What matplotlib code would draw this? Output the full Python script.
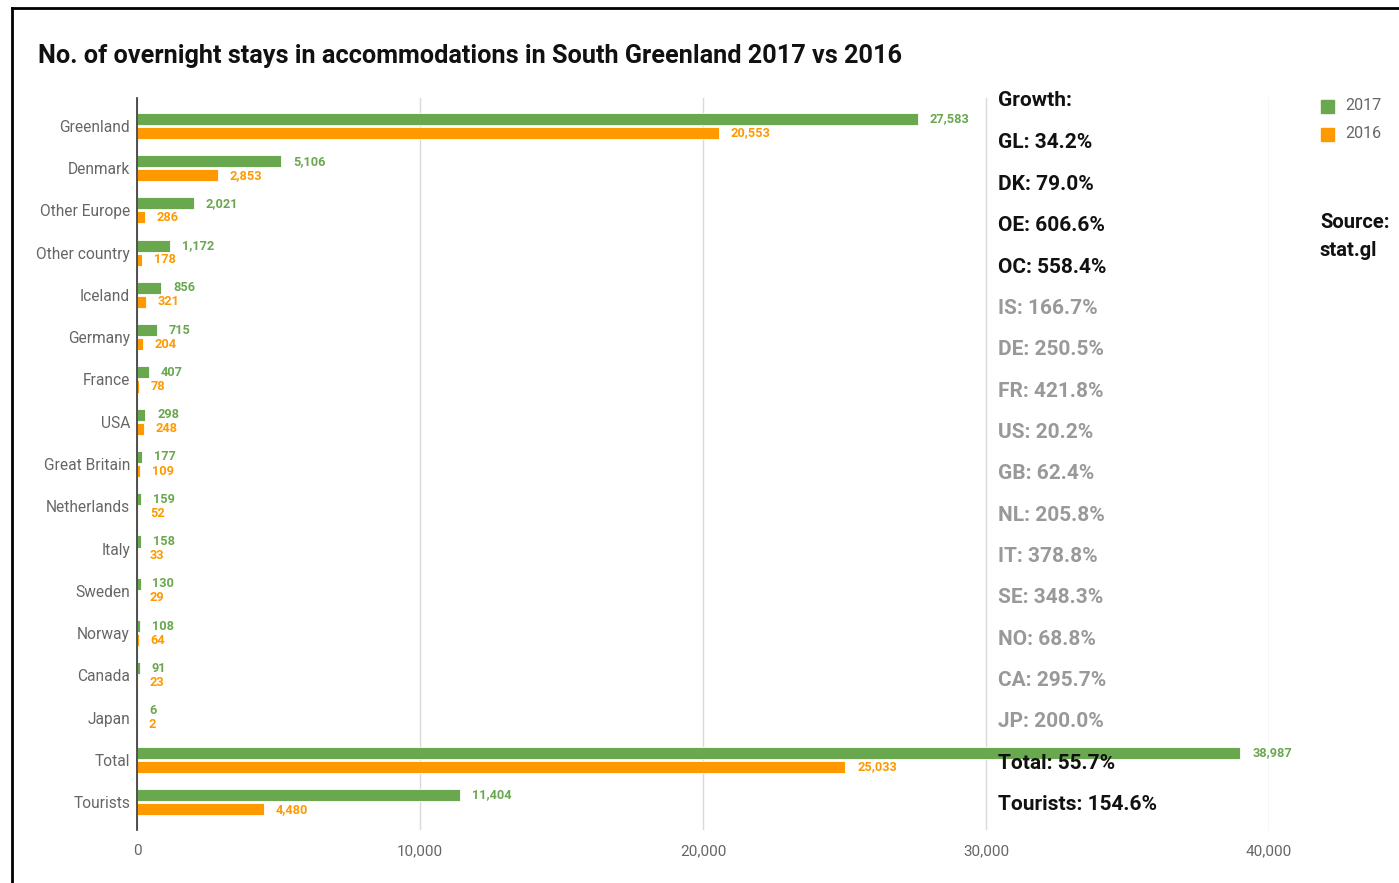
import matplotlib
matplotlib.use("Agg")
import matplotlib.pyplot as plt
from matplotlib.lines import Line2D
from matplotlib.patches import Rectangle

plt.rcParams['font.family'] = ['Roboto', 'DejaVu Sans']

categories = ["Greenland", "Denmark", "Other Europe", "Other country", "Iceland",
              "Germany", "France", "USA", "Great Britain", "Netherlands", "Italy",
              "Sweden", "Norway", "Canada", "Japan", "Total", "Tourists"]
stays_2017 = [27583, 5106, 2021, 1172, 856, 715, 407, 298, 177, 159, 158, 130,
              108, 91, 6, 38987, 11404]
stays_2016 = [20553, 2853, 286, 178, 321, 204, 78, 248, 109, 52, 33, 29,
              64, 23, 2, 25033, 4480]
growth_labels = ["GL: 34.2%", "DK: 79.0%", "OE: 606.6%", "OC: 558.4%", "IS: 166.7%",
                 "DE: 250.5%", "FR: 421.8%", "US: 20.2%", "GB: 62.4%", "NL: 205.8%",
                 "IT: 378.8%", "SE: 348.3%", "NO: 68.8%", "CA: 295.7%", "JP: 200.0%",
                 "Total: 55.7%", "Tourists: 154.6%"]
growth_highlight = [True, True, True, True, False, False, False, False, False,
                    False, False, False, False, False, False, True, True]
x_ticks = [0, 10000, 20000, 30000, 40000]

GREEN = "#6aa84f"
ORANGE = "#ff9900"
GREY_TXT = "#666666"

W, H = 1399, 883
fig = plt.figure(figsize=(W / 100, H / 100), dpi=100)
fig.patch.set_facecolor("white")


def fx(px):
    return px / W


def fy(py):
    return 1 - py / H


ax = fig.add_axes([fx(137), fy(830), fx(1269) - fx(137), fy(98) - fy(830)])

n = len(categories)
pos = list(range(n))
off = 0.166
bh = 0.285
ax.barh([p - off for p in pos], stays_2017, height=bh, color=GREEN,
        edgecolor="white", linewidth=0.6, zorder=3, label="2017")
ax.barh([p + off for p in pos], stays_2016, height=bh, color=ORANGE,
        edgecolor="white", linewidth=0.6, zorder=3, label="2016")

for p, v in zip(pos, stays_2017):
    ax.annotate(f"{v:,}", (v, p - off), xytext=(8.5, 0), textcoords="offset points",
                va="center", ha="left", fontsize=9.2, color=GREEN, fontweight="bold")
for p, v in zip(pos, stays_2016):
    ax.annotate(f"{v:,}", (v, p + off), xytext=(8.5, 0), textcoords="offset points",
                va="center", ha="left", fontsize=9.2, color=ORANGE, fontweight="bold")

ax.set_xlim(0, 40000)
ax.set_ylim(n - 1 + 0.66, -0.66)
ax.set_yticks(pos)
ax.set_yticklabels(categories, fontsize=11.2, color=GREY_TXT)
ax.set_xticks(x_ticks)
ax.set_xticklabels([f"{t:,}" for t in x_ticks], fontsize=11, color=GREY_TXT)
ax.tick_params(axis="both", length=0)
ax.tick_params(axis="y", pad=5)
ax.tick_params(axis="x", pad=10)
ax.grid(axis="x", color="#d9d9d9", linewidth=1, zorder=0)
for s in ["top", "right", "bottom"]:
    ax.spines[s].set_visible(False)
ax.spines["left"].set_color("#333333")
ax.spines["left"].set_linewidth(1.2)
ax.spines["left"].set_zorder(4)

# Title
fig.text(fx(38), fy(56), "No. of overnight stays in accommodations in South Greenland 2017 vs 2016",
         fontsize=18.2, fontweight="bold", color="#111111", va="center", ha="left")

# Growth column
fig.text(fx(998), fy(101), "Growth:", fontsize=15, fontweight="bold", color="#111111",
         va="center", ha="left")
for i, (lab, hi) in enumerate(zip(growth_labels, growth_highlight)):
    fig.text(fx(998), fy(143 + i * 41.35), lab, fontsize=15, fontweight="bold",
             color="#111111" if hi else "#999999", va="center", ha="left", zorder=10)

# Legend
for py, col, lab in [(106, GREEN, "2017"), (134, ORANGE, "2016")]:
    fig.patches.append(Rectangle((fx(1321), fy(py + 7)), fx(13), 13 / H,
                                 transform=fig.transFigure, color=col, figure=fig))
    fig.text(fx(1345), fy(py), lab, fontsize=11.5, color=GREY_TXT, va="center", ha="left")

# Source note
fig.text(fx(1320), fy(223), "Source:", fontsize=14.5, fontweight="bold", color="#111111",
         va="center", ha="left")
fig.text(fx(1320), fy(250), "stat.gl", fontsize=14.5, fontweight="bold", color="#111111",
         va="center", ha="left")

# Outer frame
fig.lines.append(Line2D([fx(12), fx(12)], [fy(8), 0], transform=fig.transFigure,
                        color="black", linewidth=2, figure=fig))
fig.lines.append(Line2D([fx(12), 1], [fy(8), fy(8)], transform=fig.transFigure,
                        color="black", linewidth=2, figure=fig))

fig.savefig("out.png", dpi=100)
